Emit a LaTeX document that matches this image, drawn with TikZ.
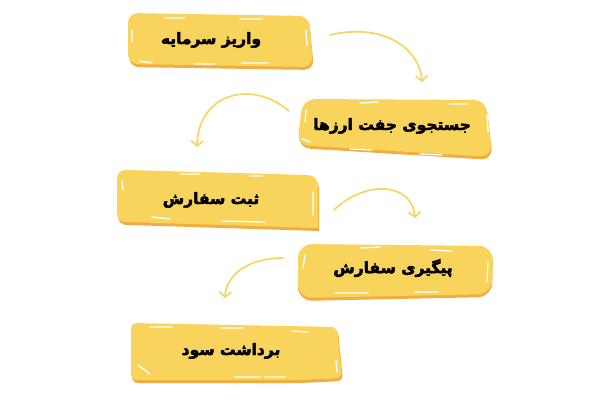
\documentclass[tikz,border=0pt]{standalone}
\usepackage{fontspec}
\usetikzlibrary{arrows.meta}
\TeXXeTstate=1
\newfontfamily\fafont[Script=Arabic,FakeBold=3]{DejaVu Sans Bold}
\definecolor{boxyellow}{HTML}{F9D45D}
\definecolor{boxshadow}{HTML}{F1AE3E}
\definecolor{arrowyellow}{HTML}{F8D562}
\tikzset{
  boxfill/.style={fill=boxyellow},
  boxshade/.style={fill=boxshadow},
  stitch/.style={draw=white, line width=1.3pt, line cap=round},
  label/.style={font=\fafont\bfseries\fontsize{15.5}{17}\selectfont, text=black, inner sep=0pt},
  flowarrow/.style={draw=arrowyellow, line width=1.7pt, line cap=round,
    -{Straight Barb[length=5pt,width=12pt,line width=1.7pt]}}
}
\begin{document}
\begin{tikzpicture}[x=1pt,y=-1pt]
\useasboundingbox (0,0) rectangle (600,400);
\fill[white] (0,0) rectangle (600,400);

% Box 1
\fill[boxshade, rounded corners=10pt] (129,16) -- (309,18) -- (314,70) -- (129,67) -- cycle;
\fill[boxfill, rounded corners=10pt] (128,13) -- (309,16) -- (313,67) -- (128,64) -- cycle;
\draw[stitch] (165,18) -- (185,18) (240,19) -- (262,19) (132,30) -- (132,42) (306,30) -- (307,46)
  (140,61) -- (152,63) (195,64) -- (215,64) (242,63) -- (268,63);

% Box 2
\fill[boxshade, rounded corners=12pt] (303,102) -- (486,102) -- (493,160) -- (298,148) -- cycle;
\fill[boxfill, rounded corners=12pt] (303,99) -- (486,100) -- (492,157) -- (297,145) -- cycle;
\draw[stitch] (360,103) -- (378,102) (450,104) -- (468,104) (306,110) -- (305,122) (487,115) -- (488,132)
  (302,139) -- (310,142) (350,149) -- (372,150) (420,154) -- (442,155);

% Box 3
\fill[boxshade] (128,173) -- (307,178) .. controls (317,178.5) and (319,183) .. (319,191) -- (319,231) -- (128,225)
  .. controls (120,225) and (118,221) .. (118,215) -- (118,183) .. controls (118,176) and (121,173) .. (128,173);
\fill[boxfill] (127,170) -- (306,175) .. controls (316,175.5) and (318,180) .. (318,188) -- (318,228) -- (127,222)
  .. controls (119,222) and (117,218) .. (117,212) -- (117,180) .. controls (117,173) and (120,170) .. (127,170);
\draw[stitch] (122,181) -- (123,190) (180,174) -- (200,174) (250,176) -- (262,176) (313,192) -- (313,215)
  (152,217) -- (170,219) (222,221) -- (265,222);

% Box 4
\fill[boxshade, rounded corners=14pt] (298,247) -- (493,249) -- (492,297) -- (298,301) -- cycle;
\fill[boxfill, rounded corners=14pt] (298,244) -- (493,246) -- (492,294) -- (298,298) -- cycle;
\draw[stitch] (305,255) -- (303,268) (360,248) -- (380,247) (430,250) -- (452,251) (488,262) -- (487,282)
  (335,293) -- (368,293) (415,292) -- (438,292);

% Box 5
\fill[boxshade, rounded corners=6pt] (132,326) -- (338,330) -- (343,381) -- (300,383) -- (132,383) -- cycle;
\fill[boxfill, rounded corners=6pt] (131,323) -- (337,327) -- (342,378) -- (300,380) -- (131,380) -- cycle;
\draw[stitch] (150,327) -- (172,327) (221,328) -- (243,328) (292,331) -- (308,332)
  (138,365) -- (150,374) (235,377) -- (260,377) (265,377) -- (285,377) (336,360) -- (337,372);

% Labels
\node[label] (t1) at (211,40) {\beginR واریز سرمایه\endR};
\node[label] (t2) at (392,126) {\beginR جستجوی جفت ارزها\endR};
\node[label] (t3) at (211,200) {\beginR ثبت سفارش\endR};
\node[label] (t4) at (393,268) {\beginR پیگیری سفارش\endR};
\node[label] (t5) at (231,351) {\beginR برداشت سود\endR};

% Arrow end points
\coordinate (a1s) at (330,35);  \coordinate (a1e) at (422,82);
\coordinate (a2s) at (289,111); \coordinate (a2e) at (197,147);
\coordinate (a3s) at (334,210); \coordinate (a3e) at (415,218);
\coordinate (a4s) at (283,258); \coordinate (a4e) at (225,298);

\draw[flowarrow] (a1s) .. controls (385,22) and (420,50) .. (a1e);
\draw[flowarrow] (a2s) .. controls (250,78) and (198,95) .. (a2e);
\draw[flowarrow] (a3s) .. controls (365,180) and (412,182) .. (a3e);
\draw[flowarrow] (a4s) .. controls (248,258) and (226,275) .. (a4e);
\end{tikzpicture}
\end{document}
